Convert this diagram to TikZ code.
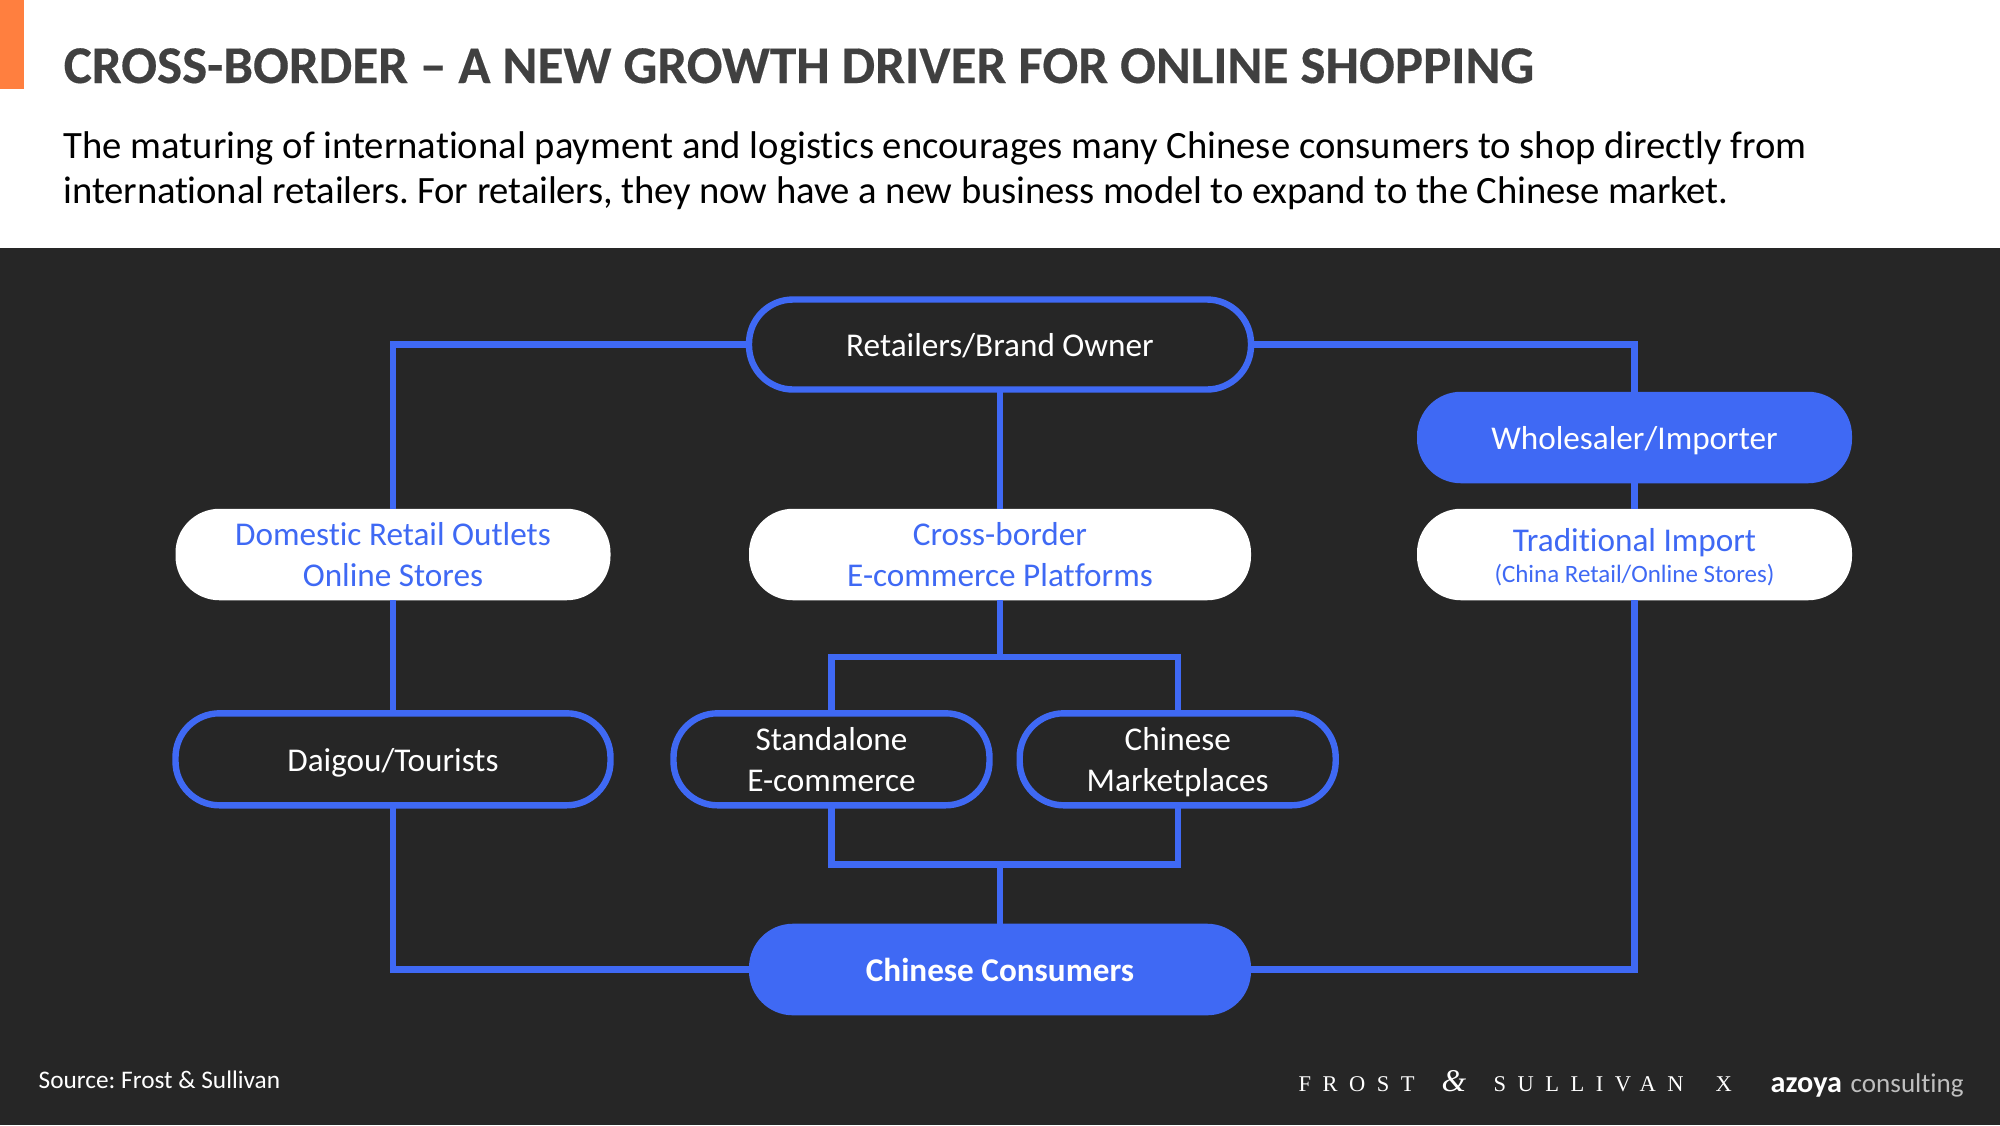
\documentclass[tikz,border=0pt]{standalone}
\usepackage{fontspec}
\usepackage{xcolor}
\usetikzlibrary{calc}
\setmainfont[Ligatures=NoCommon]{Carlito}
\newfontfamily\logofont{Liberation Serif}
\definecolor{boxblue}{HTML}{3F69F4}
\definecolor{panelgrey}{HTML}{262626}
\definecolor{titlegrey}{HTML}{404040}
\definecolor{barorange}{HTML}{FF7F3F}
\tikzset{
  link/.style={draw=boxblue,line width=0.064cm},
  pill/.style={rectangle,rounded corners=0.44cm,inner sep=0pt,outer sep=0pt,align=center,
    font=\fontsize{9.45}{11.6}\selectfont,text height=7pt,text depth=0pt},
  twoline/.style={text height=18.2pt},
  outlinebox/.style={pill,draw=boxblue,line width=0.064cm,fill=panelgrey,text=white},
  whitebox/.style={pill,fill=white,text=boxblue},
  bluebox/.style={pill,fill=boxblue,text=white},
  logotext/.style={anchor=base west,inner sep=0pt,text=white,font=\logofont\fontsize{6.4}{8}\selectfont\addfontfeature{LetterSpace=51}}
}

\begin{document}
\frenchspacing
\begin{tikzpicture}[y=-1cm]
  \useasboundingbox (0,0) rectangle (20,11.25);
  % Background
  \fill[white] (0,0) rectangle (20,2.48);
  \fill[panelgrey] (0,2.48) rectangle (20,11.25);
  \fill[barorange] (0,0) rectangle (0.235,0.885);

  % Heading
  \node[anchor=base west,inner sep=0pt,text=titlegrey,font=\fontsize{15.1}{17}\selectfont\bfseries\addfontfeature{FakeBold=0.3}] (title) at (0.63,0.83)
    {CROSS-BORDER -- A NEW GROWTH DRIVER FOR ONLINE SHOPPING};
  \node[anchor=base west,inner sep=0pt,text=black,font=\fontsize{11}{12.7}\selectfont] (introa) at (0.63,1.58)
    {The maturing of international payment and logistics encourages many Chinese consumers to shop directly from};
  \node[anchor=base west,inner sep=0pt,text=black,font=\fontsize{11}{12.7}\selectfont\addfontfeature{LetterSpace=-0.4}] (introb) at (0.63,2.03)
    {international retailers. For retailers, they now have a new business model to expand to the Chinese market.};

  % Boxes
  \node[outlinebox,minimum width=5.02cm,minimum height=0.9cm] (retail) at (10,3.445) {Retailers/Brand Owner};
  \node[bluebox,minimum width=4.35cm,minimum height=0.915cm] (whole) at (16.345,4.375) {Wholesaler/Importer};
  \node[whitebox,twoline,minimum width=4.35cm,minimum height=0.915cm] (domestic) at (3.93,5.545) {Domestic Retail Outlets\\Online Stores};
  \node[whitebox,twoline,minimum width=5.02cm,minimum height=0.915cm] (cross) at (10,5.545) {Cross-border\\E-commerce Platforms};
  \node[whitebox,text height=16pt,minimum width=4.35cm,minimum height=0.915cm] (trad) at (16.345,5.545)
    {Traditional Import\\[-2.7pt]{\fontsize{7.1}{9}\selectfont (China Retail/Online Stores)}};
  \node[outlinebox,minimum width=4.35cm,minimum height=0.92cm] (daigou) at (3.93,7.593) {Daigou/Tourists};
  \node[outlinebox,twoline,minimum width=3.16cm,minimum height=0.92cm] (standalone) at (8.315,7.593) {Standalone\\E-commerce};
  \node[outlinebox,twoline,minimum width=3.16cm,minimum height=0.92cm] (market) at (11.777,7.593) {Chinese\\Marketplaces};
  \node[bluebox,minimum width=5.02cm,minimum height=0.916cm,font=\fontsize{9.45}{11.6}\selectfont\bfseries] (consumers) at (10,9.695) {Chinese Consumers};

  % Joints
  \coordinate (split) at (10,6.57);
  \coordinate (merge) at (10,8.643);

  % Lines
  \draw[link] (domestic.north) |- (retail.west);
  \draw[link] (retail.east) -| (whole.north);
  \draw[link] (retail.south) -- (cross.north);
  \draw[link] (whole.south) -- (trad.north);
  \draw[link] (domestic.south) -- (daigou.north);
  \draw[link] (daigou.south) |- (consumers.west);
  \draw[link] (trad.south) |- (consumers.east);
  \draw[link] (cross.south) -- (split);
  \draw[link] (standalone.north) |- (split) -| (market.north);
  \draw[link] (standalone.south) |- (merge) -| (market.south);
  \draw[link] (merge) -- (consumers.north);

  % Footer
  \node[anchor=base west,inner sep=0pt,text=white,font=\fontsize{7.2}{9}\selectfont] (source) at (0.38,10.88) {Source: Frost \& Sullivan};
  \node[logotext] (frost) at (12.98,10.91) {FROST};
  \node[anchor=base west,inner sep=0pt,text=white,font=\logofont\fontsize{9}{8}\selectfont\itshape] (amp) at (14.41,10.91) {\&};
  \node[logotext] (sullivan) at (14.93,10.91) {SULLIVAN};
  \node[logotext] (times) at (17.15,10.91) {X};
  \node[anchor=base west,inner sep=0pt,text=white,font=\fontsize{8.6}{10}\selectfont\bfseries] (azoya) at (17.7,10.92) {azoya};
  \node[anchor=base west,inner sep=0pt,text=white!75!black,font=\fontsize{7.7}{10}\selectfont] (consulting) at (18.5,10.92) {consulting};
\end{tikzpicture}
\end{document}
